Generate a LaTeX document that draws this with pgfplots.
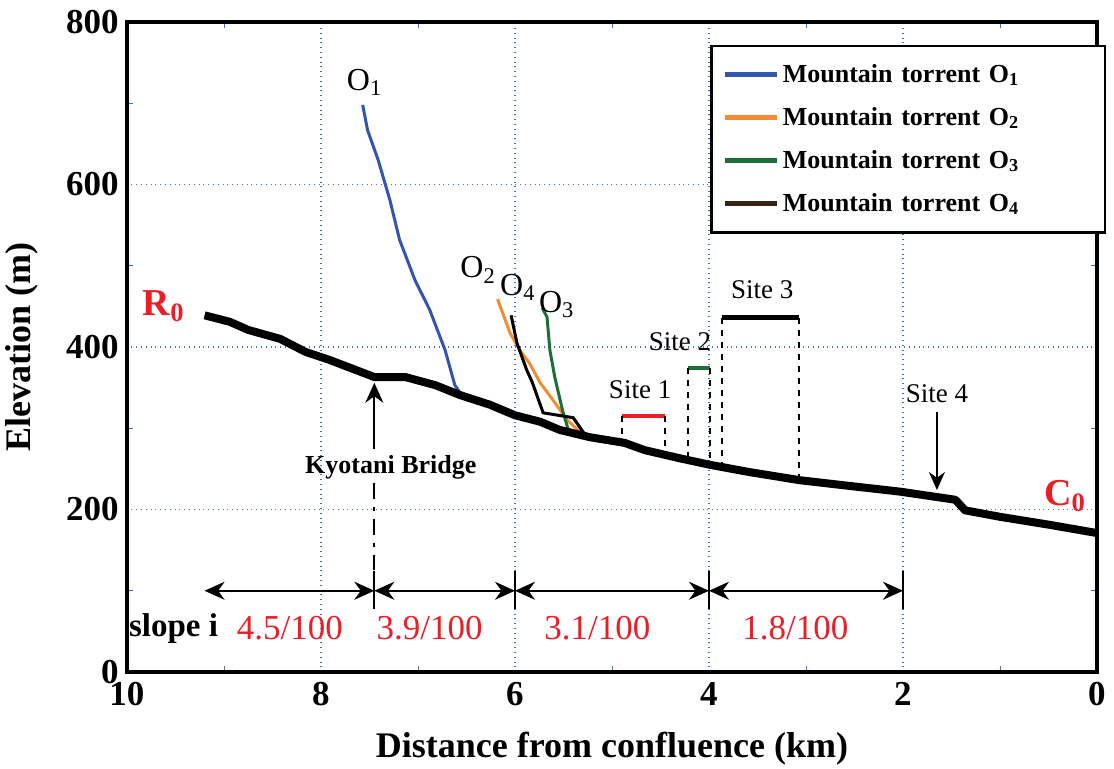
\documentclass[border=0pt]{standalone}
\usepackage{pgfplots}
\pgfplotsset{compat=1.18}
\usepackage{fontspec}
\setmainfont{Liberation Serif}
\usetikzlibrary{arrows.meta}
\definecolor{gridblue}{RGB}{70,110,200}
\definecolor{oneblue}{RGB}{50,85,175}
\definecolor{twoorange}{RGB}{240,140,50}
\definecolor{threegreen}{RGB}{30,110,60}
\definecolor{fourbrown}{RGB}{55,35,20}
\definecolor{labred}{RGB}{235,30,40}
\begin{document}
\begin{tikzpicture}
\begin{axis}[
  scale only axis, width=485pt, height=325pt,
  x dir=reverse,
  xmin=0, xmax=10, ymin=0, ymax=800,
  xtick={0,2,4,6,8,10}, ytick={0,200,400,600,800},
  minor xtick={1,3,5,7,9}, minor ytick={100,300,500,700},
  tick align=inside,
  major tick length=0pt, minor tick length=3pt,
  minor tick style={gridblue, thin},
  grid=major,
  major grid style={gridblue, dotted, line width=0.9pt},
  axis line style={line width=1.6pt},
  /pgf/number format/assume math mode=true,
  ticklabel style={font=\bfseries\fontsize{17.5}{17.5}\selectfont, inner sep=1pt},
  xticklabel style={yshift=-4pt},
  yticklabel style={xshift=-3pt},
  xlabel={Distance from confluence (km)},
  ylabel={Elevation (m)},
  label style={font=\bfseries\fontsize{18}{18}\selectfont, inner sep=1pt},
  xlabel style={at={(axis description cs:0.5,-0.118)}, anchor=center},
  ylabel style={at={(axis description cs:-0.108,0.5)}, anchor=center},
  legend style={at={(rel axis cs:0.601,0.965)}, anchor=north west,
    draw=black, line width=1.3pt, inner xsep=6pt, inner ysep=7pt,
    font=\bfseries\fontsize{13}{13}\selectfont,
    row sep=7pt, cells={anchor=west, text width=153pt}},
  legend image code/.code={\draw[#1, line width=2.2pt] (0.05cm,0cm) -- (0.95cm,0cm);},
  clip=false,
]
% Mountain torrent O1
\addplot[oneblue, line width=1.5pt] coordinates {
(7.57,698) (7.52,667) (7.41,630) (7.29,581) (7.19,532) (7.03,482) (6.88,446) (6.72,396) (6.62,353) (6.55,341)};
\addlegendentry{Mountain torrent O\textsubscript{1}}
% O2
\addplot[twoorange, line width=1.5pt] coordinates {
(6.18,459) (6.05,417) (5.95,396) (5.85,380) (5.74,356) (5.61,335) (5.46,310) (5.30,292)};
\addlegendentry{Mountain torrent O\textsubscript{2}}
% O3
\addplot[threegreen, line width=1.5pt] coordinates {
(5.72,448) (5.67,437) (5.64,396) (5.59,363) (5.51,322) (5.45,298) (5.40,294)};
\addlegendentry{Mountain torrent O\textsubscript{3}}
% O4
\addplot[black, line width=1.5pt, forget plot] coordinates {
(6.04,439) (5.98,405) (5.88,372) (5.82,356) (5.71,319) (5.40,313) (5.26,289)};
\addlegendimage{fourbrown}
\addlegendentry{Mountain torrent O\textsubscript{4}}
% main river
\addplot[black, line width=4pt, line join=round, forget plot] coordinates {
(9.2,439) (8.94,431) (8.75,421) (8.42,410) (8.16,394) (7.91,384) (7.45,363) (7.13,363)
(6.82,353) (6.57,341) (6.26,329) (6.0,316) (5.74,308) (5.54,298) (5.23,289) (4.87,282)
(4.66,273) (4.30,263) (3.99,255) (3.58,246) (3.06,236) (2.55,229) (2.03,222) (1.46,212)
(1.36,199) (1.0,191) (0.48,181) (0,171)};
% sites
\addplot[labred, line width=2.2pt, forget plot] coordinates {(4.90,315) (4.45,315)};
\addplot[threegreen, line width=2.2pt, forget plot] coordinates {(4.22,374) (3.99,374)};
\addplot[black, line width=2.4pt, forget plot] coordinates {(3.87,436) (3.07,436)};
\addplot[black, dashed, line width=0.9pt, forget plot] coordinates {(4.90,315) (4.90,282)};
\addplot[black, dashed, line width=0.9pt, forget plot] coordinates {(4.45,315) (4.45,270)};
\addplot[black, dashed, line width=0.9pt, forget plot] coordinates {(4.22,374) (4.22,258)};
\addplot[black, dashed, line width=0.9pt, forget plot] coordinates {(3.99,374) (3.99,255)};
\addplot[black, dashed, line width=0.9pt, forget plot] coordinates {(3.87,436) (3.87,252)};
\addplot[black, dashed, line width=0.9pt, forget plot] coordinates {(3.07,436) (3.07,237)};
% labels
\node[font=\fontsize{13.5}{13.5}\selectfont] at (axis cs:4.71,347) {Site 1};
\node[font=\fontsize{13.5}{13.5}\selectfont] at (axis cs:4.30,406) {Site 2};
\node[font=\fontsize{13.5}{13.5}\selectfont] at (axis cs:3.45,470) {Site 3};
\node[font=\fontsize{13.5}{13.5}\selectfont] at (axis cs:1.65,343) {Site 4};
\draw[-{Stealth[length=9pt,width=8pt]}, line width=0.9pt] (axis cs:1.65,320) -- (axis cs:1.65,224);
\node[font=\fontsize{16}{16}\selectfont, inner sep=0pt] at (axis cs:7.55,726) {O\textsubscript{1}};
\node[font=\fontsize{16}{16}\selectfont, inner sep=0pt] at (axis cs:6.38,495) {O\textsubscript{2}};
\node[font=\fontsize{16}{16}\selectfont, inner sep=0pt] at (axis cs:5.97,473) {O\textsubscript{4}};
\node[font=\fontsize{16}{16}\selectfont, inner sep=0pt] at (axis cs:5.57,452) {O\textsubscript{3}};
\node[font=\bfseries\fontsize{19}{19}\selectfont, text=labred, inner sep=0pt] at (axis cs:9.62,450) {R\textsubscript{0}};
\node[font=\bfseries\fontsize{19}{19}\selectfont, text=labred, inner sep=0pt] at (axis cs:0.33,217) {C\textsubscript{0}};
% Kyotani bridge
\draw[-{Stealth[length=10pt,width=9pt]}, line width=0.9pt] (axis cs:7.45,275) -- (axis cs:7.45,356);
\node[font=\bfseries\fontsize{13}{13}\selectfont] at (axis cs:7.28,252) {Kyotani Bridge};
\draw[line width=0.9pt, dash pattern=on 8pt off 4pt on 2pt off 4pt] (axis cs:7.45,233) -- (axis cs:7.45,126);
% slope dimension arrows
\draw[{Stealth[length=10pt,width=9pt]}-{Stealth[length=10pt,width=9pt]}, line width=0.9pt] (axis cs:9.2,100) -- (axis cs:7.45,100);
\draw[{Stealth[length=10pt,width=9pt]}-{Stealth[length=10pt,width=9pt]}, line width=0.9pt] (axis cs:7.45,100) -- (axis cs:6.0,100);
\draw[{Stealth[length=10pt,width=9pt]}-{Stealth[length=10pt,width=9pt]}, line width=0.9pt] (axis cs:6.0,100) -- (axis cs:4.0,100);
\draw[{Stealth[length=10pt,width=9pt]}-{Stealth[length=10pt,width=9pt]}, line width=0.9pt] (axis cs:4.0,100) -- (axis cs:2.0,100);
\foreach \xx in {7.45,6.0,4.0,2.0} {
  \edef\temp{\noexpand\draw[line width=1pt] (axis cs:\xx,78) -- (axis cs:\xx,124);}\temp
}
\node[font=\bfseries\fontsize{16.5}{16.5}\selectfont] at (axis cs:9.52,54) {slope i};
\node[font=\fontsize{17.5}{17.5}\selectfont, text=labred] at (axis cs:8.32,54) {4.5/100};
\node[font=\fontsize{17.5}{17.5}\selectfont, text=labred] at (axis cs:6.88,54) {3.9/100};
\node[font=\fontsize{17.5}{17.5}\selectfont, text=labred] at (axis cs:5.15,54) {3.1/100};
\node[font=\fontsize{17.5}{17.5}\selectfont, text=labred] at (axis cs:3.11,54) {1.8/100};
\end{axis}
\pgfresetboundingbox
\path[use as bounding box] ([shift={(-63.5pt,-48pt)}]current axis.south west) rectangle ([shift={(8.5pt,11pt)}]current axis.north east);
\end{tikzpicture}
\end{document}
